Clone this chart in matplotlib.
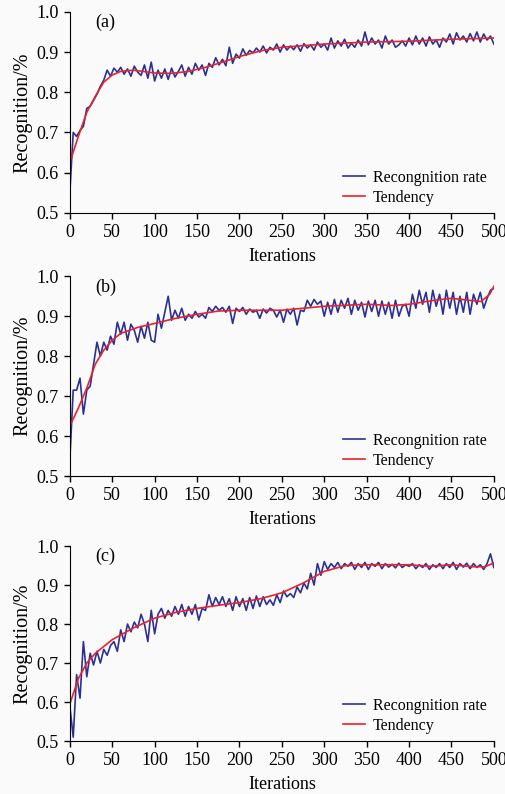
import numpy as np
import matplotlib
matplotlib.use("Agg")
import matplotlib.pyplot as plt

plt.rcParams['font.family'] = ['Liberation Serif', 'DejaVu Serif']

# recognition rate, read every 4 iterations (0..500)
rate_a = [0.55, 0.70, 0.69, 0.705, 0.715, 0.76, 0.765, 0.78, 0.795, 0.815,
          0.83, 0.855, 0.84, 0.86, 0.85, 0.862, 0.845, 0.858, 0.84, 0.865,
          0.85, 0.842, 0.868, 0.835, 0.875, 0.828, 0.855, 0.835, 0.858, 0.832,
          0.86, 0.838, 0.852, 0.868, 0.84, 0.862, 0.845, 0.872, 0.855, 0.868,
          0.842, 0.872, 0.862, 0.886, 0.868, 0.882, 0.866, 0.912, 0.872, 0.895,
          0.885, 0.908, 0.892, 0.904, 0.898, 0.91, 0.90, 0.915, 0.898, 0.912,
          0.905, 0.92, 0.90, 0.918, 0.905, 0.915, 0.906, 0.918, 0.902, 0.921,
          0.91, 0.918, 0.905, 0.925, 0.912, 0.92, 0.905, 0.935, 0.91, 0.928,
          0.915, 0.932, 0.91, 0.922, 0.912, 0.93, 0.915, 0.95, 0.918, 0.935,
          0.92, 0.93, 0.91, 0.94, 0.92, 0.93, 0.912, 0.918, 0.928, 0.915,
          0.935, 0.918, 0.94, 0.92, 0.935, 0.915, 0.938, 0.92, 0.93, 0.912,
          0.935, 0.925, 0.945, 0.92, 0.948, 0.93, 0.94, 0.925, 0.946, 0.928,
          0.95, 0.925, 0.945, 0.93, 0.94, 0.92]
rate_b = [0.54, 0.715, 0.715, 0.745, 0.655, 0.715, 0.725, 0.78, 0.835, 0.80,
          0.835, 0.815, 0.85, 0.83, 0.885, 0.855, 0.885, 0.84, 0.88, 0.865,
          0.835, 0.875, 0.845, 0.885, 0.84, 0.835, 0.905, 0.87, 0.91, 0.95,
          0.89, 0.915, 0.895, 0.92, 0.89, 0.905, 0.895, 0.912, 0.898, 0.905,
          0.895, 0.922, 0.912, 0.925, 0.915, 0.922, 0.91, 0.925, 0.882, 0.92,
          0.912, 0.922, 0.905, 0.918, 0.91, 0.915, 0.895, 0.918, 0.908, 0.92,
          0.915, 0.898, 0.915, 0.885, 0.918, 0.905, 0.92, 0.878, 0.915, 0.912,
          0.94, 0.925, 0.942, 0.93, 0.938, 0.90, 0.935, 0.905, 0.942, 0.91,
          0.94, 0.92, 0.945, 0.905, 0.94, 0.915, 0.935, 0.898, 0.938, 0.912,
          0.94, 0.90, 0.938, 0.905, 0.935, 0.895, 0.94, 0.90, 0.925, 0.93,
          0.90, 0.955, 0.92, 0.965, 0.93, 0.96, 0.91, 0.965, 0.925, 0.955,
          0.905, 0.965, 0.92, 0.96, 0.905, 0.95, 0.91, 0.96, 0.905, 0.955,
          0.93, 0.96, 0.92, 0.945, 0.965, 0.97]
rate_c = [0.59, 0.51, 0.67, 0.61, 0.755, 0.665, 0.725, 0.695, 0.73, 0.70,
          0.735, 0.72, 0.745, 0.755, 0.73, 0.785, 0.755, 0.80, 0.78, 0.805,
          0.79, 0.825, 0.80, 0.755, 0.835, 0.775, 0.825, 0.84, 0.815, 0.835,
          0.82, 0.845, 0.825, 0.85, 0.82, 0.845, 0.825, 0.85, 0.81, 0.84,
          0.835, 0.875, 0.845, 0.868, 0.85, 0.87, 0.845, 0.865, 0.835, 0.87,
          0.845, 0.865, 0.835, 0.868, 0.84, 0.872, 0.845, 0.87, 0.85, 0.862,
          0.848, 0.875, 0.855, 0.885, 0.87, 0.878, 0.868, 0.895, 0.88, 0.905,
          0.89, 0.93, 0.90, 0.955, 0.925, 0.96, 0.94, 0.955, 0.945, 0.958,
          0.942, 0.955, 0.948, 0.958, 0.94, 0.955, 0.945, 0.958, 0.94, 0.955,
          0.948, 0.958, 0.942, 0.955, 0.946, 0.953, 0.944, 0.956, 0.945, 0.952,
          0.948, 0.955, 0.942, 0.952, 0.945, 0.955, 0.94, 0.952, 0.945, 0.955,
          0.942, 0.955, 0.945, 0.958, 0.94, 0.955, 0.946, 0.956, 0.942, 0.955,
          0.945, 0.952, 0.94, 0.955, 0.98, 0.945]

# tendency curves
trend_x_a = [0, 10, 20, 30, 40, 50, 60, 75, 100, 120, 140, 160, 180, 200,
             225, 250, 300, 350, 400, 450, 500]
trend_a = [0.625, 0.69, 0.75, 0.79, 0.825, 0.843, 0.852, 0.855, 0.848, 0.847,
           0.852, 0.862, 0.875, 0.889, 0.903, 0.912, 0.92, 0.925, 0.927, 0.932,
           0.935]
trend_x_b = [0, 10, 20, 30, 40, 50, 60, 80, 100, 125, 150, 175, 200, 250,
             300, 350, 380, 400, 430, 450, 470, 485, 495, 500]
trend_b = [0.625, 0.67, 0.72, 0.78, 0.815, 0.84, 0.857, 0.872, 0.882, 0.895,
           0.905, 0.913, 0.915, 0.915, 0.925, 0.93, 0.927, 0.93, 0.94, 0.945,
           0.94, 0.937, 0.955, 0.975]
trend_x_c = [0, 10, 20, 30, 50, 75, 100, 125, 150, 175, 200, 225, 250, 275,
             300, 325, 350, 400, 425, 450, 475, 490, 500]
trend_c = [0.595, 0.66, 0.70, 0.725, 0.76, 0.79, 0.815, 0.83, 0.84, 0.848,
           0.855, 0.865, 0.88, 0.905, 0.935, 0.95, 0.952, 0.952, 0.948, 0.952,
           0.947, 0.947, 0.957]

panels = [("(a)", rate_a, trend_x_a, trend_a),
          ("(b)", rate_b, trend_x_b, trend_b),
          ("(c)", rate_c, trend_x_c, trend_c)]
boxes = [[0.138, 0.732, 0.838, 0.253],
         [0.138, 0.4005, 0.838, 0.2515],
         [0.138, 0.0667, 0.838, 0.2456]]

bg = '#fafafb'
fig = plt.figure(figsize=(5.06, 7.94), dpi=100, facecolor=bg)

for (tag, rate, tx, ty), box in zip(panels, boxes):
    ax = fig.add_axes(box, facecolor=bg)
    xs = np.linspace(0, 500, len(rate))
    ax.plot(xs, rate, color='#2b3192', lw=1.2, label='Recongnition rate')
    ax.plot(tx, ty, color='#e8232b', lw=1.2, label='Tendency')
    ax.set_xlim(0, 500)
    ax.set_ylim(0.5, 1.0)
    ax.set_xticks(range(0, 501, 50))
    ax.set_yticks([0.5, 0.6, 0.7, 0.8, 0.9, 1.0])
    ax.set_yticklabels(['0.5', '0.6', '0.7', '0.8', '0.9', '1.0'])
    ax.spines['top'].set_visible(False)
    ax.spines['right'].set_visible(False)
    ax.tick_params(labelsize=13, direction='out', length=4, width=1, pad=4)
    ax.set_xlabel('Iterations', fontsize=13, labelpad=5)
    ax.set_ylabel('Recognition/%', fontsize=14.5, labelpad=3)
    ax.text(30, 0.962, tag, fontsize=13)
    ax.legend(loc='lower right', frameon=False, fontsize=11.5, handlelength=1.4,
              handletextpad=0.5, labelspacing=0.25, borderaxespad=0.05)

fig.savefig('out.png', dpi=100, facecolor=bg)
